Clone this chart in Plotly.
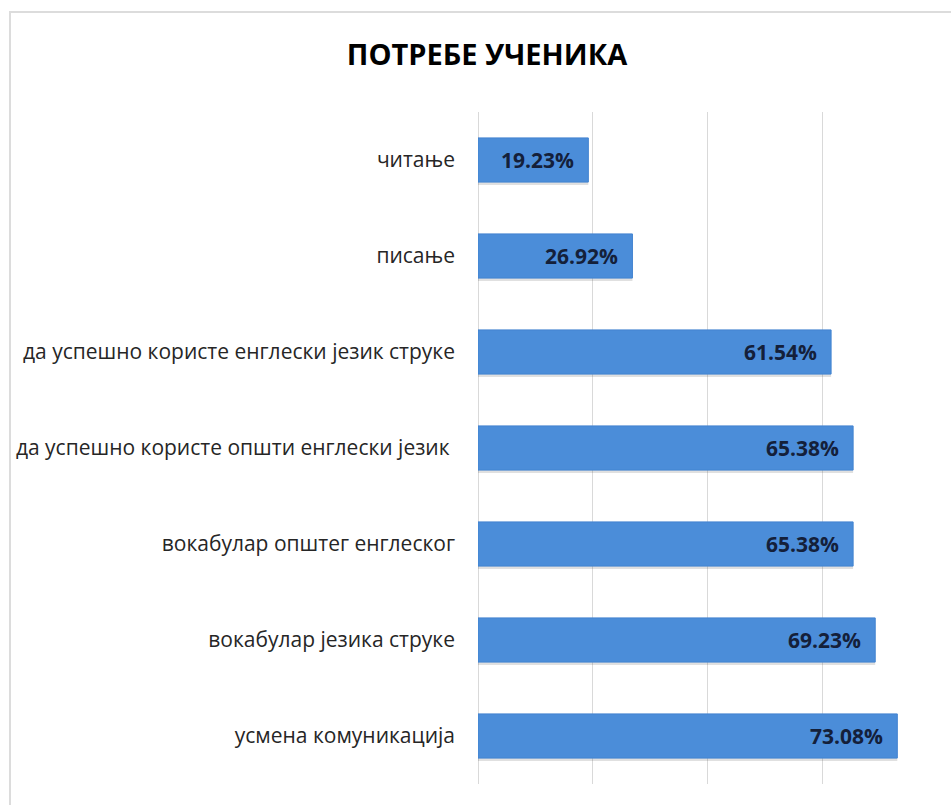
import plotly.graph_objects as go

categories = [
    "читање",
    "писање",
    "да успешно користе енглески језик струке",
    "да успешно користе општи енглески језик ",
    "вокабулар општег енглеског",
    "вокабулар језика струке",
    "усмена комуникација",
]
values = [0.1923, 0.2692, 0.6154, 0.6538, 0.6538, 0.6923, 0.7308]
labels = ["19.23%", "26.92%", "61.54%", "65.38%", "65.38%", "69.23%", "73.08%"]
title_text = "ПОТРЕБЕ УЧЕНИКА"

W, H = 951, 805
L, R, T, B = 478, 14, 112, 21
pw, ph = W - L - R, H - T - B

fig = go.Figure()
# soft shadow
fig.add_trace(go.Bar(
    y=categories, x=values, orientation="h",
    marker=dict(color="rgba(60,60,60,0.16)", line=dict(width=0)),
    width=0.46, offset=-0.20, hoverinfo="skip", showlegend=False,
))
fig.add_trace(go.Bar(
    y=categories, x=values, orientation="h",
    marker=dict(color="#4b8dd9", line=dict(color="#4283d0", width=1)),
    width=0.46, offset=-0.23, showlegend=False,
))
for c, v, t in zip(categories, values, labels):
    fig.add_annotation(x=v, y=c, text="<b>" + t + "</b>", showarrow=False,
                       xanchor="right", xshift=-12, yshift=0,
                       font=dict(family="Open Sans", size=21, color="#14203a"))

# frame
fig.add_shape(type="rect", xref="paper", yref="paper",
              x0=(10 - L) / pw, x1=(W + 6 - L) / pw,
              y0=-(B + 6) / ph, y1=(H - B - 12) / ph,
              line=dict(color="#dcdcdc", width=2), fillcolor="rgba(0,0,0,0)",
              layer="below")

fig.update_layout(
    width=W, height=H,
    margin=dict(l=L, r=R, t=T, b=B),
    paper_bgcolor="white", plot_bgcolor="white",
    barmode="overlay",
    title=dict(text="<b>" + title_text + "</b>", x=487 / W, xanchor="center",
               y=1 - 55 / H, yanchor="middle",
               font=dict(family="Open Sans", size=29, color="#000000")),
    xaxis=dict(range=[0, 0.8], dtick=0.2, tick0=0, showticklabels=False,
               showgrid=True, gridcolor="#d9d9d9", gridwidth=1,
               zeroline=True, zerolinecolor="#d9d9d9", zerolinewidth=1,
               showline=False, fixedrange=True),
    yaxis=dict(autorange="reversed", showgrid=False, showline=False,
               ticks="", ticklabelstandoff=22,
               tickfont=dict(family="Open Sans", size=21, color="#262626")),
)

fig.write_html("out.html")
